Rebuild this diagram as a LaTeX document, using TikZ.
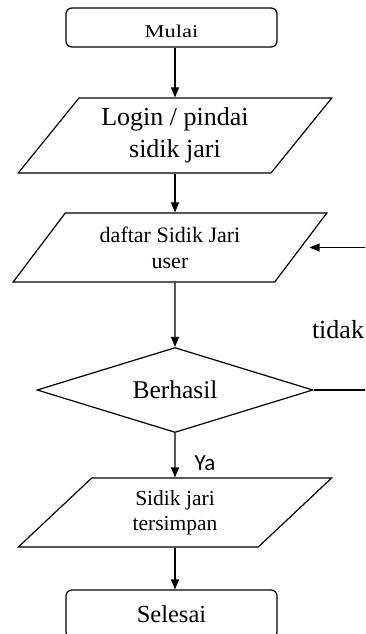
\documentclass[tikz,border=0pt]{standalone}
\usepackage{fontspec}
\setmainfont{Liberation Serif}
\newfontfamily\yafont{Carlito}
\usetikzlibrary{positioning,shapes.geometric,arrows.meta}

\begin{document}
\begin{tikzpicture}[x=1pt,y=-1pt,line width=1.2pt,
    terminal/.style={draw,rounded corners=6pt,minimum width=211pt,inner sep=0pt},
    datain/.style={draw,trapezium,trapezium left angle=50,trapezium right angle=130,
      trapezium stretches=true,minimum width=314pt,inner sep=0pt,align=center},
    decision/.style={draw,diamond,aspect=3.2,minimum width=276pt,minimum height=85pt,inner sep=0pt},
    arr/.style={-{Triangle[length=10pt,width=8pt]}}]
  \useasboundingbox (0,0) rectangle (365,634);
  \clip (0,0) rectangle (365,634);
  % kotak dan masukan
  \node[terminal,minimum height=39pt,text height=20pt,text depth=0pt,font=\fontsize{18}{20}\selectfont] (mulai) at (171.5,27.5) {\scalebox{1.25}[1]{Mulai}};
  \node[datain,minimum height=75pt,font=\fontsize{26}{32}\selectfont] (login) at (175,135.5)
    {Login / pindai\\ sidik jari};
  \node[datain,minimum height=69pt,font=\fontsize{22}{26}\selectfont] (daftar) at (170,247.5)
    {daftar Sidik Jari\\ user};
  \node[decision,font=\fontsize{25.5}{28}\selectfont] (berhasil) at (175,390) {Berhasil};
  \node[datain,minimum height=69pt,font=\fontsize{21.5}{25}\selectfont] (simpan) at (175,512.5)
    {Sidik jari\\ tersimpan};
  \node[terminal,minimum height=48pt,font=\fontsize{24.5}{28}\selectfont] (selesai) at (171.5,614) {Selesai};
  % label cabang
  \node[font=\fontsize{26}{28}\selectfont] (tidak) at (338,330) {tidak};
  \node[font=\yafont\fontsize{23}{26}\selectfont] (ya) at (205,463) {Ya};
  % panah
  \draw[arr] (mulai.south -| login.north) -- (login.north);
  \draw[arr] (login.south) -- (login.south |- daftar.north);
  \draw[arr] (login.south |- daftar.south) -- (berhasil.north);
  \draw[arr] (berhasil.south) -- (simpan.north);
  \draw[arr] (simpan.south) -- (simpan.south |- selesai.north);
  \draw[arr,shorten >=8pt] (berhasil.east) -- (385,390) |- (daftar.east);
\end{tikzpicture}
\end{document}
